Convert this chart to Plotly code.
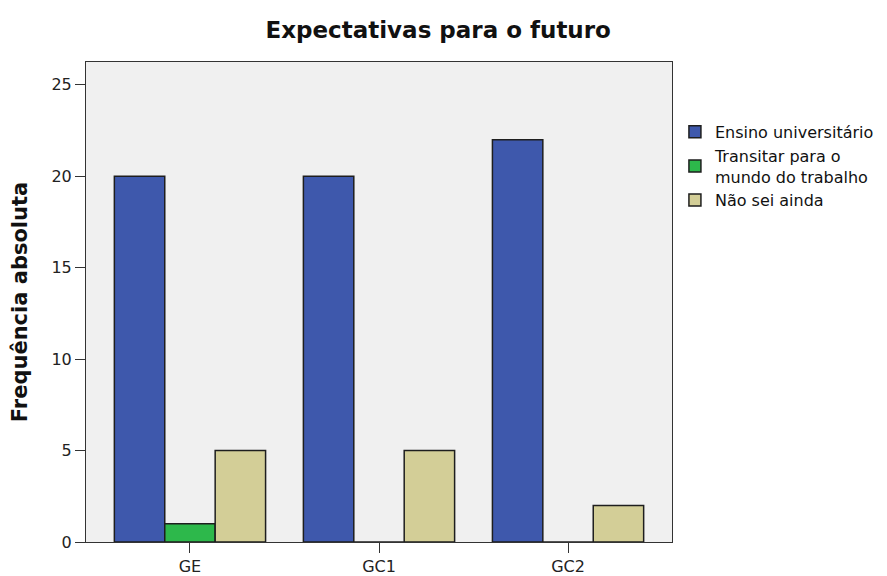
import plotly.graph_objects as go

groups = ["GE", "GC1", "GC2"]
ensino = [20, 20, 22]
transitar = [1, 0, 0]
nao_sei = [5, 5, 2]

series = [
    ("Ensino universitário", ensino, "#3E58AC"),
    ("Transitar para o<br>mundo do trabalho", transitar, "#2DB84B"),
    ("Não sei ainda", nao_sei, "#D3CE97"),
]

FONT = "DejaVu Sans, Liberation Sans, Arial, sans-serif"

fig = go.Figure()
for name, vals, color in series:
    fig.add_trace(go.Bar(
        x=groups, y=vals, name=name,
        marker=dict(color=color, line=dict(color="#1E1E1E", width=1.5)),
    ))

# the page body adds an 8px offset, so margins are shifted to compensate
fig.update_layout(
    width=887, height=576,
    barmode="group", bargap=0.2, bargroupgap=0,
    paper_bgcolor="white", plot_bgcolor="#F0F0F0",
    font=dict(family=FONT, size=16, color="#222"),
    margin=dict(l=78, r=223, t=54, b=42),
    title=dict(text="<b>Expectativas para o futuro</b>", x=0.485, xanchor="center",
               y=0.962, yanchor="middle", font=dict(family=FONT, size=23, color="#111")),
    legend=dict(x=1.005, y=0.89, xanchor="left", yanchor="top",
                font=dict(family=FONT, size=16, color="#111"), tracegroupgap=0,
                itemwidth=30, bgcolor="rgba(0,0,0,0)"),
)
fig.update_xaxes(
    range=[-0.55, 2.55], showline=True, linecolor="#333", linewidth=1,
    ticks="outside", ticklen=10, tickcolor="#333", mirror=True,
    showgrid=False, automargin=False,
)
fig.update_yaxes(
    range=[0, 26.25], dtick=5, showline=True, linecolor="#333", linewidth=1,
    ticks="outside", ticklen=10, tickcolor="#333", mirror=True,
    showgrid=False, zeroline=False, automargin=False,
    title=dict(text="<b>Frequência absoluta</b>", font=dict(family=FONT, size=21, color="#111"),
               standoff=20),
)

fig.write_html("out.html")
